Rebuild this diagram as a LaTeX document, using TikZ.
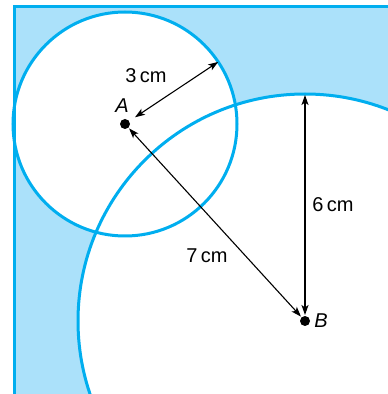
\documentclass[tikz,border=0pt]{standalone}
\usepackage{fontspec}
\setmainfont{Liberation Sans}
\usetikzlibrary{arrows.meta}
\definecolor{edgeblue}{RGB}{0,174,239}
\definecolor{fillblue}{RGB}{171,225,250}
\begin{document}
\begin{tikzpicture}[x=1pt,y=1pt,
  blueline/.style={draw=edgeblue,line width=3pt},
  dot/.style={circle,fill=black,inner sep=0pt,minimum size=10pt,outer sep=1pt},
  measure/.style={line width=1.1pt,{Stealth[length=10pt,width=7pt,inset=2.5pt]}-{Stealth[length=10pt,width=7pt,inset=2.5pt]}},
  lbl/.style={font=\fontsize{20}{24}\selectfont,inner sep=0pt}]
\useasboundingbox (0,0) rectangle (388,394);
\clip (0,0) rectangle (388,394);
% shaded corner region
\fill[fillblue] (14,0) rectangle (400,387);
\fill[white] (125,270) circle (112);
\fill[white] (305,73) circle (227);
\draw[blueline] (125,270) circle (112);
\draw[blueline] (305,73) circle (227);
\draw[blueline] (14,-5) -- (14,387) -- (400,387);
% points
\node[dot] (A) at (125,270) {};
\node[dot] (B) at (305,73) {};
\coordinate (Rend) at (218.2,332.1);
\coordinate (Rstart) at (135,276.7);
\coordinate (Btop) at (305,299);
% measurements
\draw[measure] (Rstart) -- (Rend);
\draw[measure] (A) -- (B);
\draw[measure,line width=1.4pt] (B) -- (Btop);
% labels
\node[lbl] (l3) at (146,318) {3\,cm};
\node[lbl] (l7) at (207,138) {7\,cm};
\node[lbl] (l6) at (333,189) {6\,cm};
\node[lbl,font=\fontsize{20}{24}\selectfont\itshape] (lA) at (122,288) {A};
\node[lbl,font=\fontsize{20}{24}\selectfont\itshape] (lB) at (321,73) {B};
\end{tikzpicture}
\end{document}
